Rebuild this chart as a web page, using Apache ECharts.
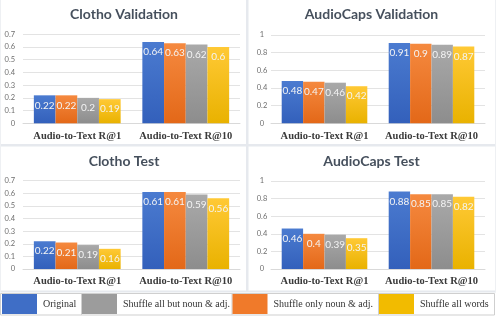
<!DOCTYPE html>
<html>
<head>
<meta charset="utf-8">
<script src="https://cdn.jsdelivr.net/npm/echarts@6/dist/echarts.min.js"></script>
<style>
html,body{margin:0;padding:0;background:#fff;}
#c{width:496px;height:316px;}
</style>
</head>
<body>
<div id="c"></div>
<script>
// ---- data ----
const categories = ['Audio-to-Text R@1', 'Audio-to-Text R@10'];
const seriesNames = ['Original', 'Shuffle only noun & adj.', 'Shuffle all but noun & adj.', 'Shuffle all words'];
const legendOrder = ['Original', 'Shuffle all but noun & adj.', 'Shuffle only noun & adj.', 'Shuffle all words'];
const panelTitles = ['Clotho Validation', 'AudioCaps Validation', 'Clotho Test', 'AudioCaps Test'];

const clothoValOriginal = [0.22, 0.64];
const clothoValOnlyNoun = [0.22, 0.63];
const clothoValAllBut = [0.2, 0.62];
const clothoValAllWords = [0.19, 0.6];

const audiocapsValOriginal = [0.48, 0.91];
const audiocapsValOnlyNoun = [0.47, 0.9];
const audiocapsValAllBut = [0.46, 0.89];
const audiocapsValAllWords = [0.42, 0.87];

const clothoTestOriginal = [0.22, 0.61];
const clothoTestOnlyNoun = [0.21, 0.61];
const clothoTestAllBut = [0.19, 0.59];
const clothoTestAllWords = [0.16, 0.56];

const audiocapsTestOriginal = [0.46, 0.88];
const audiocapsTestOnlyNoun = [0.4, 0.85];
const audiocapsTestAllBut = [0.39, 0.85];
const audiocapsTestAllWords = [0.35, 0.82];

const clothoAxis = {max: 0.7, interval: 0.1};
const audiocapsAxis = {max: 1, interval: 0.2};

// ---- styling ----
const gradients = [
  ['#4b7bd0', '#3360bb'],
  ['#f5893f', '#e36818'],
  ['#a9a9a9', '#8d8d8d'],
  ['#ffc935', '#e9b200']
];
const legendColors = {
  'Original': '#3f6ec6',
  'Shuffle all but noun & adj.': '#9c9c9c',
  'Shuffle only noun & adj.': '#f07a2a',
  'Shuffle all words': '#f2bb00'
};

const panelData = [
  [clothoValOriginal, clothoValOnlyNoun, clothoValAllBut, clothoValAllWords],
  [audiocapsValOriginal, audiocapsValOnlyNoun, audiocapsValAllBut, audiocapsValAllWords],
  [clothoTestOriginal, clothoTestOnlyNoun, clothoTestAllBut, clothoTestAllWords],
  [audiocapsTestOriginal, audiocapsTestOnlyNoun, audiocapsTestAllBut, audiocapsTestAllWords]
];
const panelAxes = [clothoAxis, audiocapsAxis, clothoAxis, audiocapsAxis];

const grids = [
  {left: 23, top: 34.3, width: 217, height: 89},
  {left: 271, top: 35, width: 214, height: 88.3},
  {left: 23, top: 180.7, width: 217, height: 88.3},
  {left: 271, top: 181, width: 214, height: 88}
];
const titlePos = [
  {x: 124, y: 7}, {x: 371.5, y: 7.5}, {x: 124, y: 154.5}, {x: 371.5, y: 154.5}
];

const titles = panelTitles.map((t, i) => ({
  text: t,
  left: titlePos[i].x,
  top: titlePos[i].y,
  textAlign: 'center',
  padding: 0,
  textStyle: {fontFamily: 'Lato', fontWeight: 'bold', fontSize: 14, color: '#46505d'}
}));

const xAxes = grids.map((g, i) => ({
  type: 'category',
  gridIndex: i,
  data: categories,
  axisTick: {show: false},
  axisLine: {lineStyle: {color: '#d9d9d9'}},
  axisLabel: {
    interval: 0,
    hideOverlap: false,
    margin: 7,
    fontFamily: 'Liberation Serif',
    fontWeight: 'bold',
    fontSize: 10.5,
    color: '#3a3a3a'
  }
}));

const yAxes = grids.map((g, i) => ({
  type: 'value',
  gridIndex: i,
  min: 0,
  max: panelAxes[i].max,
  interval: panelAxes[i].interval,
  axisLine: {show: false},
  axisTick: {show: false},
  splitLine: {lineStyle: {color: '#e3e3e3'}},
  axisLabel: {
    margin: (i % 2 === 0) ? 8 : 9,
    align: (i % 2 === 0) ? 'right' : 'center',
    fontFamily: 'Lato',
    fontSize: 7.5,
    color: '#6e6e6e'
  }
}));

const series = [];
panelData.forEach((arrs, p) => {
  arrs.forEach((vals, s) => {
    series.push({
      type: 'bar',
      name: seriesNames[s],
      xAxisIndex: p,
      yAxisIndex: p,
      data: vals,
      barGap: '0%',
      barCategoryGap: '20%',
      color: legendColors[seriesNames[s]],
      itemStyle: {
        color: {
          type: 'linear', x: 0, y: 0, x2: 0, y2: 1,
          colorStops: [{offset: 0, color: gradients[s][0]}, {offset: 1, color: gradients[s][1]}]
        }
      },
      label: {
        show: true,
        position: 'insideTop',
        distance: 5,
        color: '#f4f4f4',
        fontFamily: 'Lato',
        fontSize: 10
      }
    });
  });
});

const legendLeft = [2, 82, 232.5, 379];
const legends = legendOrder.map((n, i) => ({
  data: [{name: n, itemStyle: {color: legendColors[n]}}],
  left: legendLeft[i],
  top: 294,
  padding: 0,
  itemWidth: 35,
  itemHeight: 20,
  icon: 'rect',
  selectedMode: false,
  textStyle: {fontFamily: 'Liberation Serif', fontSize: 10, color: '#333', padding: [0, 0, 0, 1]}
}));

const sepColor = '#e6e9ee';
const graphic = [
  {type: 'rect', shape: {x: 246, y: 0, width: 2.5, height: 292}, style: {fill: sepColor}, silent: true},
  {type: 'rect', shape: {x: 0, y: 144, width: 496, height: 2.5}, style: {fill: sepColor}, silent: true},
  {type: 'rect', shape: {x: 0, y: 290.5, width: 496, height: 2}, style: {fill: sepColor}, silent: true},
  {type: 'rect', shape: {x: 0, y: 0, width: 1, height: 292}, style: {fill: '#eef0f3'}, silent: true},
  {type: 'rect', shape: {x: 495, y: 0, width: 1, height: 292}, style: {fill: '#eef0f3'}, silent: true},
  {type: 'rect', shape: {x: 0.5, y: 293.5, width: 494, height: 21.5}, style: {fill: 'none', stroke: '#cfcfcf', lineWidth: 1}, silent: true},
  {type: 'line', shape: {x1: 81.5, y1: 293.5, x2: 81.5, y2: 315}, style: {stroke: '#cfcfcf', lineWidth: 1}, silent: true},
  {type: 'line', shape: {x1: 232, y1: 293.5, x2: 232, y2: 315}, style: {stroke: '#cfcfcf', lineWidth: 1}, silent: true},
  {type: 'line', shape: {x1: 378.5, y1: 293.5, x2: 378.5, y2: 315}, style: {stroke: '#cfcfcf', lineWidth: 1}, silent: true}
];

const chart = echarts.init(document.getElementById('c'), null, {renderer: 'canvas'});
chart.setOption({
  animation: false,
  backgroundColor: '#ffffff',
  title: titles,
  grid: grids,
  xAxis: xAxes,
  yAxis: yAxes,
  legend: legends,
  series: series,
  graphic: graphic
});
</script>
</body>
</html>
